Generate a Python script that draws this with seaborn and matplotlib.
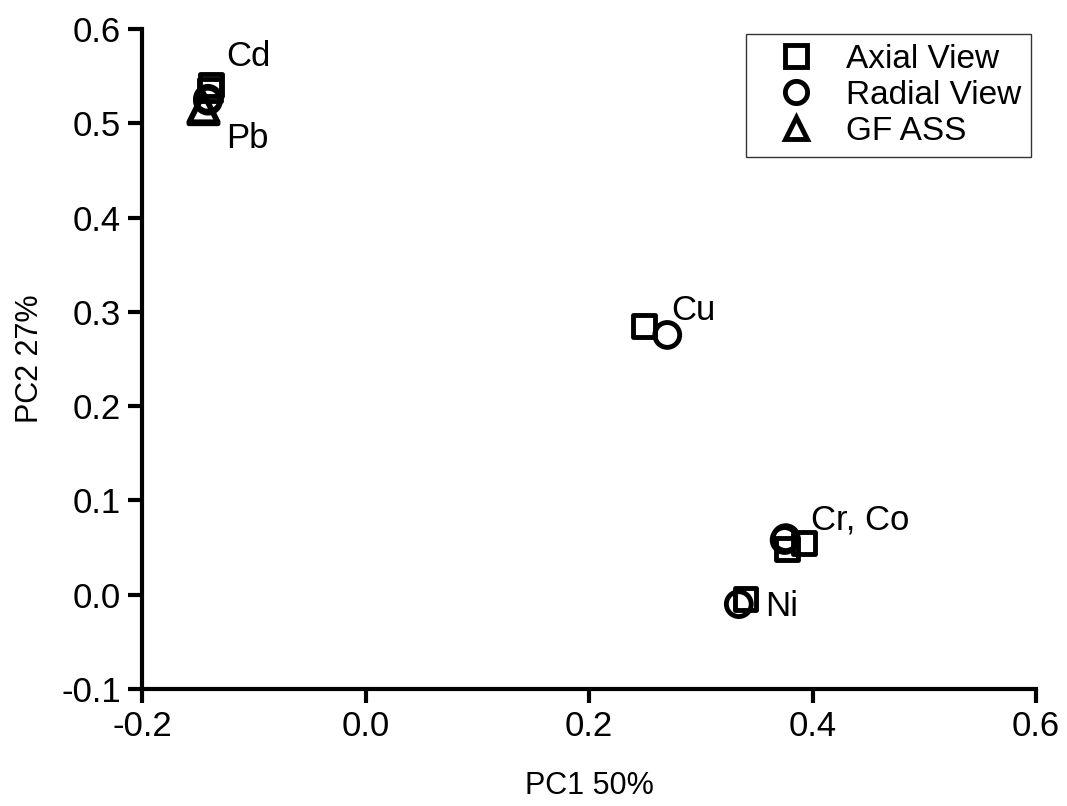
import numpy as np
import pandas as pd
import matplotlib
matplotlib.use('Agg')
import matplotlib.pyplot as plt
from matplotlib.lines import Line2D
import seaborn as sns

# PCA loadings
elements = ['Cd', 'Pb', 'Cu', 'Cr', 'Co', 'Ni']
axial_pc1 = [-0.138, -0.139, 0.249, 0.392, 0.377, 0.340]
axial_pc2 = [0.541, 0.535, 0.285, 0.055, 0.048, -0.005]
radial_pc1 = [-0.141, -0.141, 0.270, 0.376, 0.375, 0.334]
radial_pc2 = [0.526, 0.524, 0.2755, 0.060, 0.058, -0.010]
gf_elements = ['Cd', 'Pb']
gf_pc1 = [-0.145, -0.145]
gf_pc2 = [0.517, 0.515]

label_text = ['Cd', 'Pb', 'Cu', 'Cr, Co', 'Ni']
label_x = [-0.1248, -0.1248, 0.274, 0.399, 0.358]
label_y = [0.571, 0.484, 0.301, 0.079, -0.013]

df = pd.concat([
    pd.DataFrame({'element': elements, 'PC1': axial_pc1, 'PC2': axial_pc2, 'technique': 'Axial View'}),
    pd.DataFrame({'element': elements, 'PC1': radial_pc1, 'PC2': radial_pc2, 'technique': 'Radial View'}),
    pd.DataFrame({'element': gf_elements, 'PC1': gf_pc1, 'PC2': gf_pc2, 'technique': 'GF ASS'}),
], ignore_index=True)

sns.set_style('ticks')
plt.rcParams['font.family'] = ['Liberation Sans', 'DejaVu Sans']
plt.rcParams['text.color'] = 'black'
plt.rcParams['axes.labelcolor'] = 'black'
plt.rcParams['xtick.color'] = 'black'
plt.rcParams['ytick.color'] = 'black'
plt.rcParams['axes.edgecolor'] = 'black'

fig, ax = plt.subplots(figsize=(10.67, 8.06), dpi=100)
fig.subplots_adjust(left=0.1331, right=0.971, top=0.964, bottom=0.1452)

markers = {'Axial View': 's', 'Radial View': 'o', 'GF ASS': '^'}
sizes = {'Axial View': 250, 'Radial View': 320, 'GF ASS': 440}
for tech in ['Axial View', 'Radial View', 'GF ASS']:
    sub = df[df['technique'] == tech]
    sns.scatterplot(data=sub, x='PC1', y='PC2', marker=markers[tech], s=sizes[tech],
                    facecolor='none', edgecolor='black', linewidth=3.5, ax=ax, legend=False, zorder=3)

for t, x, y in zip(label_text, label_x, label_y):
    ax.text(x, y, t, fontsize=25, ha='left', va='center')

ax.set_xlim(-0.2, 0.6)
ax.set_ylim(-0.1, 0.6)
ax.set_xticks([-0.2, 0.0, 0.2, 0.4, 0.6])
ax.set_yticks([-0.1, 0.0, 0.1, 0.2, 0.3, 0.4, 0.5, 0.6])
ax.set_xticklabels(['-0.2', '0.0', '0.2', '0.4', '0.6'])
ax.set_yticklabels(['-0.1', '0.0', '0.1', '0.2', '0.3', '0.4', '0.5', '0.6'])
ax.set_xlabel('PC1 50%', fontsize=22, labelpad=20)
ax.set_ylabel('PC2 27%', fontsize=22, labelpad=12)
ax.tick_params(labelsize=25, width=3, length=10, direction='out', pad=5)
sns.despine(ax=ax)
for sp in ['left', 'bottom']:
    ax.spines[sp].set_linewidth(3)
    ax.spines[sp].set_capstyle('projecting')

handles = [Line2D([], [], marker=markers[t], linestyle='none', markersize=16,
                  markerfacecolor='none', markeredgecolor='black', markeredgewidth=3.5)
           for t in markers]
leg = ax.legend(handles, list(markers), loc='upper right', fontsize=24, frameon=True,
                fancybox=False, edgecolor='black', borderaxespad=0.15, labelspacing=0.15,
                handletextpad=0.3, borderpad=0.3, handlelength=2.4)
leg.get_frame().set_linewidth(1)

plt.savefig('out.png', dpi=100)
